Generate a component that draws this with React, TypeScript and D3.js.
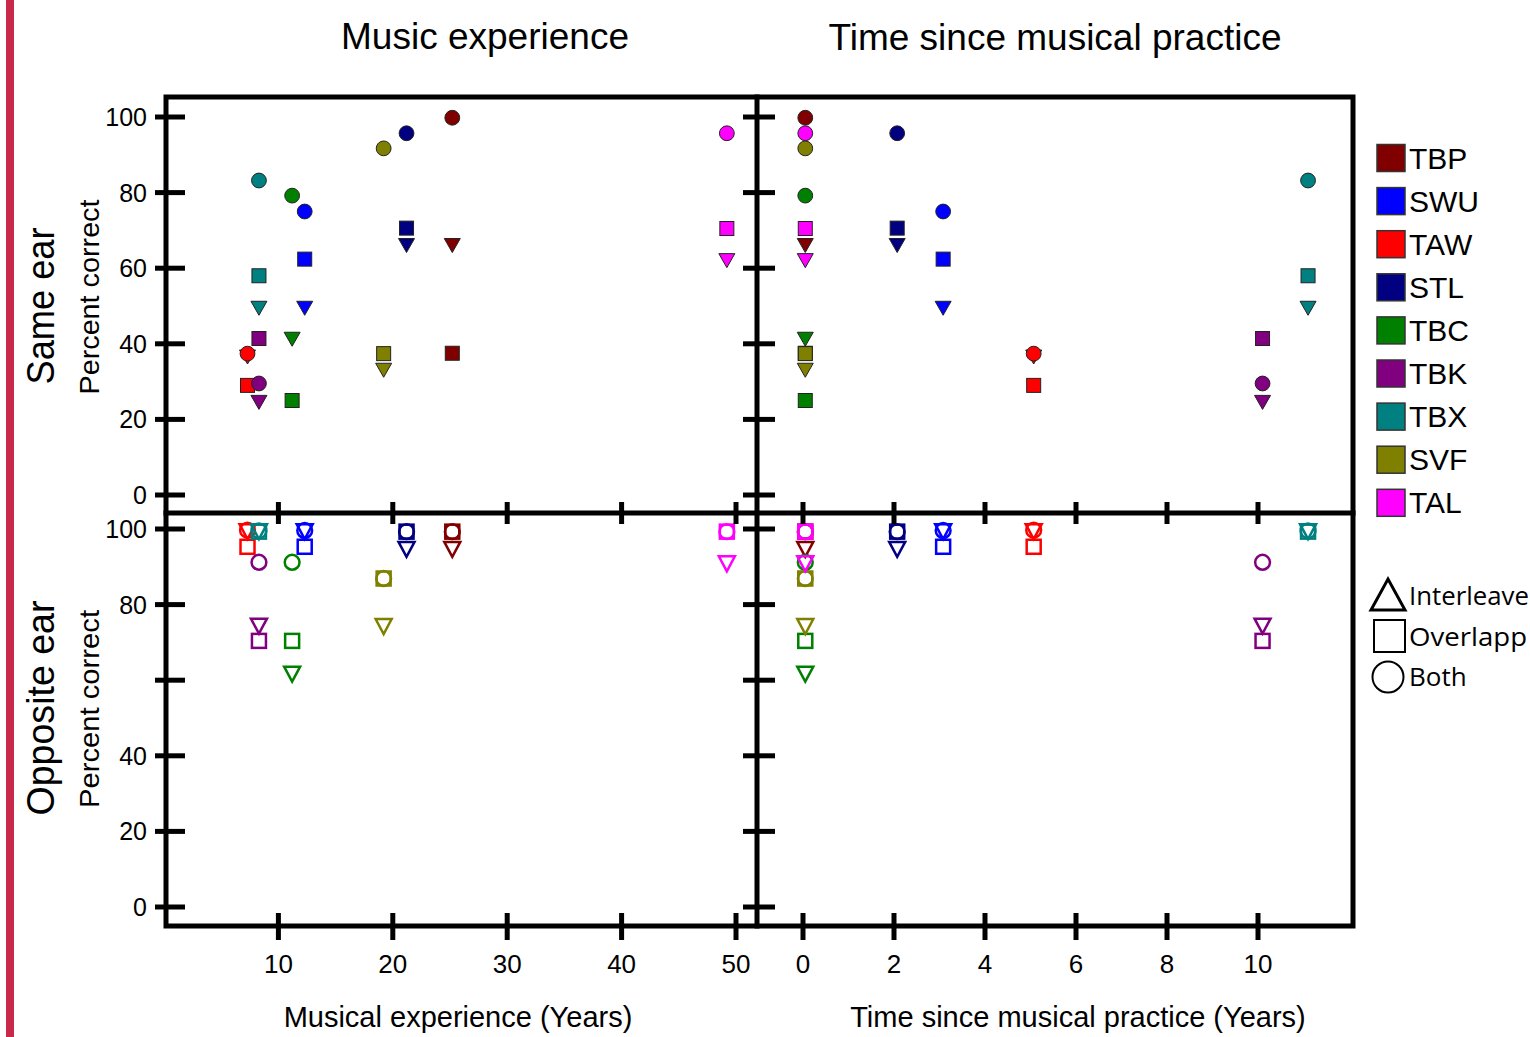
import React from 'react';
import * as d3 from 'd3';

// participants and their colours (legend order)
const participants = ['TBP', 'SWU', 'TAW', 'STL', 'TBC', 'TBK', 'TBX', 'SVF', 'TAL'];
const colors = ['#800000', '#0000ff', '#ff0000', '#000080', '#008000', '#800080', '#008080', '#808000', '#ff00ff'];

// x values
const musicYears = [25.2, 12.3, 7.3, 21.2, 11.2, 8.3, 8.3, 19.2, 49.2];
const gapYears = [0.05, 3.08, 5.07, 2.07, 0.05, 10.1, 11.1, 0.05, 0.05];

// percent correct, same ear
const sameInterleaved = [66, 49.4, 36.5, 66, 41.2, 24.5, 49.4, 33, 62];
const sameOverlapping = [37.5, 62.4, 29, 70.6, 25, 41.4, 58, 37.4, 70.5];
const sameBoth = [99.8, 75, 37.4, 95.7, 79.2, 29.5, 83.2, 91.7, 95.7];

// percent correct, opposite ear
const oppInterleaved = [94.6, 99.3, 99.3, 94.6, 61.6, 74.3, 99.3, 74.2, 90.8];
const oppOverlapping = [99.3, 95.3, 95.3, 99.3, 70.4, 70.4, 99.3, 86.9, 99.3];
const oppBoth = [99.3, 99.6, 99.7, 99.3, 91.2, 91.2, 99.5, 86.9, 99.3];

const musicTicks = [10, 20, 30, 40, 50];
const gapTicks = [0, 2, 4, 6, 8, 10];
const yTicks = [0, 20, 40, 60, 80, 100];
const topLabels = [0, 20, 40, 60, 80, 100];
const bottomLabels = [0, 20, 40, 80, 100];
// shape legend as it shows at the picture's right edge
const shapeLegend = ['Interleave', 'Overlapp', 'Both'];
const shapeLegendLen = [120, 118, 0];

const FONT = '"Liberation Sans", Arial, sans-serif';
const W = 1530;
const H = 1037;
const F = { l: 166, r: 1353, t: 97, b: 926, mx: 757, my: 513 };

const xMusic = d3.scaleLinear().domain([0, 50]).range([164, 736]);
const xGap = d3.scaleLinear().domain([0, 10]).range([803, 1258]);
const yTop = d3.scaleLinear().domain([0, 100]).range([495, 117]);
const yBot = d3.scaleLinear().domain([0, 100]).range([907, 529]);

function triDown(cx: number, cy: number, w: number, h: number) {
  return `M${cx - w / 2},${cy - h / 2}L${cx + w / 2},${cy - h / 2}L${cx},${cy + h / 2}Z`;
}

function Marker({ kind, cx, cy, color, open }: any) {
  const fill = open ? 'none' : color;
  const stroke = open ? color : '#222';
  const sw = open ? 2.5 : 1;
  if (kind === 0) return <path d={triDown(cx, cy, 16, open ? 15 : 14)} fill={fill} stroke={stroke} strokeWidth={sw} />;
  if (kind === 1) return <rect x={cx - 7} y={cy - 7} width={14} height={14} fill={fill} stroke={stroke} strokeWidth={sw} />;
  return <circle cx={cx} cy={cy} r={7.4} fill={fill} stroke={stroke} strokeWidth={sw} />;
}

const panels = [
  { x: xMusic, xs: musicYears, y: yTop, sets: [sameInterleaved, sameOverlapping, sameBoth], open: false },
  { x: xGap, xs: gapYears, y: yTop, sets: [sameInterleaved, sameOverlapping, sameBoth], open: false },
  { x: xMusic, xs: musicYears, y: yBot, sets: [oppInterleaved, oppOverlapping, oppBoth], open: true },
  { x: xGap, xs: gapYears, y: yBot, sets: [oppInterleaved, oppOverlapping, oppBoth], open: true },
];

export default function App() {
  const lw = 5;
  return (
    <div style={{ position: 'absolute', left: 0, top: 0 }}>
      <svg width={W} height={H} style={{ display: 'block', background: '#fff' }} fontFamily={FONT}>
        <rect x={0} y={0} width={W} height={H} fill="#fff" />
        <rect x={6} y={0} width={8} height={H} fill="#c8284a" />

        {/* titles */}
        <text x={485} y={49} fontSize={37} textAnchor="middle">Music experience</text>
        <text x={1055} y={50} fontSize={37} textAnchor="middle">Time since musical practice</text>

        {/* row labels */}
        <text transform="translate(54,306) rotate(-90)" fontSize={38} textAnchor="middle" textLength={157} lengthAdjust="spacingAndGlyphs">Same ear</text>
        <text transform="translate(99,297) rotate(-90)" fontSize={28} textAnchor="middle" textLength={195} lengthAdjust="spacingAndGlyphs">Percent correct</text>
        <text transform="translate(54,708) rotate(-90)" fontSize={38} textAnchor="middle" textLength={215} lengthAdjust="spacingAndGlyphs">Opposite ear</text>
        <text transform="translate(99,709) rotate(-90)" fontSize={28} textAnchor="middle" textLength={198} lengthAdjust="spacingAndGlyphs">Percent correct</text>

        {/* markers */}
        {panels.map((p, pi) => (
          <g key={pi}>
            {participants.map((name, i) => (
              <g key={name}>
                {p.sets.map((vals, k) => (
                  <Marker key={k} kind={k} cx={p.x(p.xs[i])} cy={p.y(vals[i])} color={colors[i]} open={p.open} />
                ))}
              </g>
            ))}
          </g>
        ))}

        {/* frame */}
        <g stroke="#000" strokeWidth={lw} fill="none" strokeLinecap="square">
          <rect x={F.l} y={F.t} width={F.r - F.l} height={F.b - F.t} />
          <line x1={F.mx} x2={F.mx} y1={F.t} y2={F.b} />
          <line x1={F.l} x2={F.r} y1={F.my} y2={F.my} />
        </g>

        {/* ticks */}
        <g stroke="#000" strokeWidth={lw}>
          {[yTop, yBot].map((ys, si) =>
            yTicks.map((t) => (
              <g key={`${si}-${t}`}>
                <line x1={155} x2={185} y1={ys(t)} y2={ys(t)} />
                <line x1={743} x2={775} y1={ys(t)} y2={ys(t)} />
              </g>
            ))
          )}
          {musicTicks.map((t) => (
            <g key={`m${t}`}>
              <line x1={xMusic(t)} x2={xMusic(t)} y1={913} y2={940} />
              <line x1={xMusic(t)} x2={xMusic(t)} y1={502} y2={524} />
            </g>
          ))}
          {gapTicks.map((t) => (
            <g key={`g${t}`}>
              <line x1={xGap(t)} x2={xGap(t)} y1={913} y2={940} />
              <line x1={xGap(t)} x2={xGap(t)} y1={502} y2={524} />
            </g>
          ))}
        </g>

        {/* tick labels */}
        <g fontSize={25} textAnchor="end" fill="#000">
          {topLabels.map((t) => (
            <text key={`tl${t}`} x={147} y={yTop(t)} dy="0.36em">{t}</text>
          ))}
          {bottomLabels.map((t) => (
            <text key={`bl${t}`} x={147} y={yBot(t)} dy="0.36em">{t}</text>
          ))}
        </g>
        <g fontSize={26} textAnchor="middle" fill="#000">
          {musicTicks.map((t) => (
            <text key={`ml${t}`} x={xMusic(t)} y={964} dy="0.36em">{t}</text>
          ))}
          {gapTicks.map((t) => (
            <text key={`gl${t}`} x={xGap(t)} y={964} dy="0.36em">{t}</text>
          ))}
        </g>

        {/* axis titles */}
        <text x={458} y={1027} fontSize={29} textAnchor="middle">Musical experience (Years)</text>
        <text x={1078} y={1027} fontSize={29} textAnchor="middle">Time since musical practice (Years)</text>

        {/* colour legend */}
        {participants.map((name, i) => {
          const cy = 158 + i * 43.1;
          return (
            <g key={`lg${name}`}>
              <rect x={1377} y={cy - 13.5} width={28} height={27} fill={colors[i]} stroke="#333" strokeWidth={1.5} />
              <text x={1409} y={cy + 10.5} fontSize={30}>{name}</text>
            </g>
          );
        })}

        {/* shape legend */}
        <g fill="none" stroke="#000">
          <path d="M1371,610L1405,610L1388,579Z" strokeWidth={3} />
          <rect x={1374} y={620} width={31} height={32} strokeWidth={2} />
          <circle cx={1388} cy={677} r={15.5} strokeWidth={2} />
        </g>
        <g fontSize={26} fontFamily='"Open Sans", "Noto Sans", sans-serif' fill="#000">
          {shapeLegend.map((s, i) =>
            shapeLegendLen[i] ? (
              <text key={s} x={1409} y={605 + i * 40.5} textLength={shapeLegendLen[i]} lengthAdjust="spacingAndGlyphs">{s}</text>
            ) : (
              <text key={s} x={1409} y={605 + i * 40.5}>{s}</text>
            )
          )}
        </g>
      </svg>
    </div>
  );
}
